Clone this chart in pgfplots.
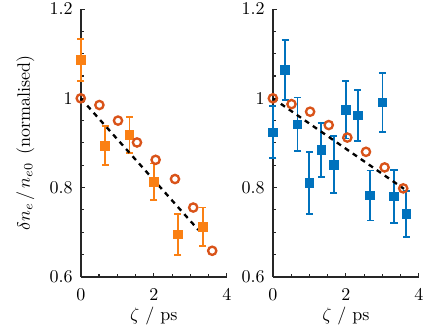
\documentclass[border=0pt]{standalone}
\usepackage{pgfplots}
\pgfplotsset{compat=1.18}
\definecolor{sqorange}{RGB}{250,128,20}
\definecolor{circorange}{RGB}{217,83,25}
\definecolor{mblue}{RGB}{0,114,189}
\definecolor{axgray}{RGB}{38,38,38}
\pgfplotsset{
  panel/.style={
    scale only axis,
    width=81.2pt, height=148.7pt,
    xmin=0, xmax=4, ymin=0.6, ymax=1.2,
    xtick={0,2,4}, ytick={0.6,0.8,1,1.2},
    minor x tick num=3, minor y tick num=3,
    axis x line*=bottom, axis y line*=left,
    axis line style={axgray, line width=1pt, -},
    tick style={axgray, line width=0.6pt},
    major tick length=2.2pt, minor tick length=1.6pt,
    tick align=inside,
    xticklabel style={yshift=-3.2pt},
    yticklabel style={xshift=-1pt},
    xlabel={$\zeta$ / ps},
    xlabel style={at={(axis description cs:0.5,-0.147)}, anchor=center},
    ylabel={$\delta n_e\,/\,n_{e0}$\;\,(normalised)},
    ylabel style={at={(axis description cs:-0.38,0.5)}, anchor=center},
    clip=false,
  },
  errsq/.style={
    only marks, mark=square*, mark size=2.4pt, color=#1,
    mark options={draw=#1, fill=#1, solid},
    error bars/.cd, y dir=both, y explicit,
    error bar style={line width=1pt, color=#1},
    error mark options={rotate=90, mark size=2pt, line width=1pt, color=#1},
  },
  circ/.style={only marks, mark=o, mark size=2.3pt, color=circorange,
    mark options={draw=circorange, line width=1.3pt, fill=none, solid}},
  fitline/.style={black, line width=1.3pt, dash pattern=on 2.8pt off 2.6pt},
}
\begin{document}
\begin{tikzpicture}
\useasboundingbox (-44.9pt,-28pt) rectangle (197.5pt,153.8pt);
\begin{axis}[panel, at={(0,0)}, anchor=south west]
\addplot[errsq=sqorange] coordinates {
  (0,1.086) +- (0,0.047)
  (0.667,0.894) +- (0,0.044)
  (1.333,0.918) +- (0,0.041)
  (2.0,0.813) +- (0,0.041)
  (2.66,0.695) +- (0,0.046)
  (3.34,0.712) +- (0,0.043)
};
\addplot[fitline] coordinates {(0,1.0) (3.22,0.705)};
\addplot[circ] coordinates {
  (0,1.0) (0.51,0.985) (1.02,0.950) (1.54,0.901)
  (2.05,0.862) (2.58,0.819) (3.08,0.755) (3.60,0.658)
};
\end{axis}
\begin{axis}[panel, at={(106.8pt,0)}, anchor=south west, ylabel={}]
\addplot[errsq=mblue] coordinates {
  (0,0.924) +- (0,0.058)
  (0.336,1.064) +- (0,0.067)
  (0.673,0.942) +- (0,0.060)
  (1.0,0.810) +- (0,0.069)
  (1.327,0.884) +- (0,0.061)
  (1.664,0.851) +- (0,0.064)
  (2.0,0.974) +- (0,0.064)
  (2.327,0.962) +- (0,0.057)
  (2.664,0.782) +- (0,0.056)
  (3.0,0.991) +- (0,0.066)
  (3.318,0.780) +- (0,0.059)
  (3.655,0.741) +- (0,0.052)
};
\addplot[fitline] coordinates {(0,1.0) (3.59,0.797)};
\addplot[circ] coordinates {
  (0,1.0) (0.51,0.987) (1.02,0.970) (1.53,0.940)
  (2.04,0.912) (2.55,0.880) (3.06,0.845) (3.57,0.798)
};
\end{axis}
\end{tikzpicture}
\end{document}
